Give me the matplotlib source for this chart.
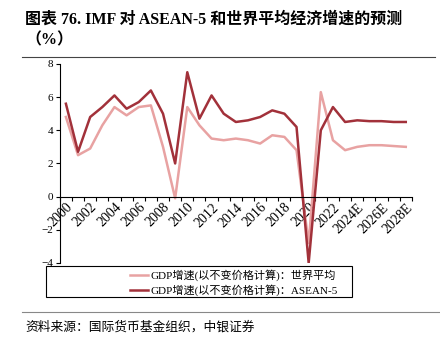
import matplotlib

matplotlib.use("Agg")
import matplotlib.pyplot as plt
import numpy as np
from matplotlib.patches import Rectangle
from matplotlib.lines import Line2D

plt.rcParams["font.family"] = ["Liberation Serif", "Noto Sans CJK SC"]

years = [str(y) for y in range(2000, 2024)] + ["2024E", "2025E", "2026E", "2027E", "2028E"]
world = [4.8, 2.5, 2.9, 4.3, 5.4, 4.9, 5.4, 5.5, 3.0, -0.1,
         5.4, 4.3, 3.5, 3.4, 3.5, 3.4, 3.2, 3.7, 3.6, 2.8,
         -2.8, 6.3, 3.4, 2.8, 3.0, 3.1, 3.1, 3.05, 3.0]
asean5 = [5.6, 2.7, 4.8, 5.4, 6.1, 5.3, 5.7, 6.4, 5.0, 2.0,
          7.5, 4.7, 6.1, 5.0, 4.5, 4.6, 4.8, 5.2, 5.0, 4.2,
          -4.0, 4.0, 5.4, 4.5, 4.6, 4.55, 4.55, 4.5, 4.5]
labels = ["GDP增速(以不变价格计算)：世界平均", "GDP增速(以不变价格计算)：ASEAN-5"]

c_world = "#e8a2a2"
c_asean = "#a2313a"

fig = plt.figure(figsize=(4.4, 3.4), dpi=100)
ax = fig.add_axes([0.136, 0.2265, 0.80, 0.5855])

x = np.arange(len(years))
ax.plot(x, world, color=c_world, lw=1.8)
ax.plot(x, asean5, color=c_asean, lw=1.8)

ax.set_xlim(-0.5, len(years) - 0.5)
ax.set_ylim(-4, 8)
ax.set_yticks(np.arange(-4, 9, 2))
ax.tick_params(axis="y", labelsize=8, length=3, width=0.8, pad=2)

# tick marks at category boundaries, labels every second year
ax.set_xticks(np.arange(-0.5, len(years), 1))
ax.set_xticklabels([])
ax.tick_params(axis="x", which="major", length=3, width=0.8, direction="out")
ax.set_xticks(x[::2], minor=True)
ax.set_xticklabels(years[::2], minor=True, fontsize=8)
ax.tick_params(axis="x", which="minor", length=0, pad=3, labelrotation=45)

for s in ("top", "right"):
    ax.spines[s].set_visible(False)
ax.spines["bottom"].set_position(("data", 0))
ax.spines["left"].set_linewidth(0.8)
ax.spines["bottom"].set_linewidth(0.8)

# legend box
fig.patches.append(Rectangle((46 / 440, 1 - 297 / 340), 306 / 440, 31 / 340,
                             transform=fig.transFigure, fill=False,
                             edgecolor="black", lw=0.8))
handles = [Line2D([], [], color=c_world, lw=1.8), Line2D([], [], color=c_asean, lw=1.8)]
fig.legend(handles, labels, loc="center", bbox_to_anchor=(234 / 440, 1 - 282.5 / 340),
           frameon=False, fontsize=8, handlelength=1.6, handletextpad=0.2,
           labelspacing=0.3, borderpad=0)

# title and source
fig.text(25 / 440, 1 - 20 / 340, "图表 76. IMF 对 ASEAN-5 和世界平均经济增速的预测",
         fontsize=11.5, fontweight="bold", va="center")
fig.text(25 / 440, 1 - 40 / 340, "（%）", fontsize=11.5, fontweight="bold", va="center")
fig.add_artist(Line2D([22 / 440, 435 / 440], [1 - 57 / 340, 1 - 57 / 340],
                      color="#444444", lw=0.8, transform=fig.transFigure))
fig.add_artist(Line2D([22 / 440, 1.0], [1 - 312 / 340, 1 - 312 / 340],
                      color="#888888", lw=0.8, transform=fig.transFigure))
fig.text(25 / 440, 1 - 327 / 340, "资料来源：国际货币基金组织，中银证券",
         fontsize=9.2, style="italic", va="center")

fig.canvas.draw()
for t in ax.get_xticklabels(minor=True):
    t.set_horizontalalignment("right")
    t.set_rotation_mode("anchor")

fig.savefig("out.png", dpi=100)
